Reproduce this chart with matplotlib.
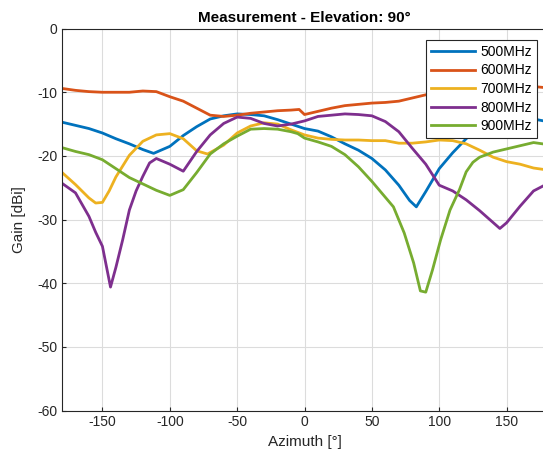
import numpy as np
import matplotlib
matplotlib.use('Agg')
import matplotlib.pyplot as plt

# Gain patterns (azimuth in deg, gain in dBi)
az_500 = [-180, -170, -160, -150, -140, -130, -120, -112, -100, -90, -80, -70, -60, -50, -40, -30, -20, -10,
          0, 10, 20, 30, 40, 50, 60, 70, 78, 83, 90, 100, 110, 120, 130, 140, 150, 160, 170, 180]
gain_500 = [-14.7, -15.2, -15.7, -16.4, -17.3, -18.1, -19.0, -19.6, -18.5, -16.8, -15.4, -14.2, -13.7, -13.4, -13.5, -13.7, -14.3, -15.0,
            -15.7, -16.1, -17.0, -18.1, -19.1, -20.4, -22.2, -24.6, -27.0, -28.0, -25.6, -22.0, -19.5, -17.3, -15.5, -14.2, -13.7, -13.8, -14.2, -14.6]

az_600 = [-180, -170, -160, -150, -140, -130, -120, -110, -100, -90, -80, -70, -60, -50, -40, -30, -20, -10, -4,
          0, 10, 20, 30, 40, 50, 60, 70, 80, 90, 100, 110, 120, 130, 140, 150, 160, 170, 180]
gain_600 = [-9.4, -9.7, -9.9, -10.0, -10.0, -10.0, -9.8, -9.9, -10.7, -11.4, -12.5, -13.6, -13.8, -13.6, -13.3, -13.1, -12.9, -12.8, -12.7,
            -13.5, -13.0, -12.5, -12.1, -11.9, -11.7, -11.6, -11.4, -10.9, -10.4, -10.0, -9.7, -9.5, -9.3, -9.2, -9.1, -9.0, -9.1, -9.3]

az_700 = [-180, -170, -160, -155, -150, -145, -140, -130, -120, -110, -100, -90, -80, -72, -60, -50, -40, -30, -20, -10,
          0, 10, 20, 30, 40, 50, 60, 70, 80, 90, 100, 110, 120, 130, 140, 150, 160, 170, 180]
gain_700 = [-22.6, -24.5, -26.6, -27.4, -27.3, -25.5, -23.3, -19.9, -17.7, -16.7, -16.5, -17.3, -19.2, -19.7, -18.3, -16.4, -15.3, -14.8, -15.0, -15.9,
            -16.7, -17.2, -17.4, -17.5, -17.5, -17.6, -17.6, -18.0, -18.0, -17.8, -17.5, -17.6, -18.1, -19.1, -20.2, -20.9, -21.3, -21.9, -22.2]

az_800 = [-180, -170, -160, -155, -150, -144, -140, -135, -130, -125, -120, -115, -110, -100, -90, -80, -70, -60, -50, -40, -30, -20, -10,
          0, 10, 20, 30, 40, 50, 60, 70, 80, 90, 100, 110, 120, 130, 145, 150, 160, 170, 180]
gain_800 = [-24.3, -25.8, -29.5, -32.0, -34.2, -40.6, -37.5, -33.2, -28.5, -25.5, -23.2, -21.1, -20.4, -21.3, -22.4, -19.3, -16.7, -14.9, -13.9, -14.1, -14.9, -15.3, -15.0,
            -14.5, -13.8, -13.6, -13.4, -13.5, -13.7, -14.6, -16.2, -18.8, -21.3, -24.6, -25.5, -26.9, -28.6, -31.4, -30.5, -27.9, -25.5, -24.4]

az_900 = [-180, -170, -160, -150, -140, -130, -120, -110, -100, -90, -80, -70, -60, -50, -40, -30, -20, -10, -5,
          0, 10, 20, 30, 40, 50, 56, 66, 74, 81, 86, 90, 95, 101, 108, 115, 120, 125, 130, 140, 150, 160, 170, 180]
gain_900 = [-18.7, -19.3, -19.8, -20.6, -22.0, -23.4, -24.4, -25.4, -26.2, -25.3, -22.6, -19.7, -18.1, -16.9, -15.8, -15.7, -15.8, -16.2, -16.5,
            -17.2, -17.8, -18.5, -19.8, -21.7, -24.0, -25.5, -28.0, -32.1, -36.8, -41.2, -41.4, -37.9, -33.2, -28.5, -25.3, -22.5, -21.0, -20.2, -19.4, -18.9, -18.4, -17.9, -18.2]

series = [
    ('500MHz', az_500, gain_500, '#0072BD'),
    ('600MHz', az_600, gain_600, '#D95319'),
    ('700MHz', az_700, gain_700, '#EDB120'),
    ('800MHz', az_800, gain_800, '#7E2F8E'),
    ('900MHz', az_900, gain_900, '#77AC30'),
]

plt.rcParams['font.family'] = ['Liberation Sans', 'DejaVu Sans']
plt.rcParams['axes.unicode_minus'] = False

fig = plt.figure(figsize=(5.43, 4.59), dpi=100)
# axes runs slightly past the right edge, as in the cropped original
ax = fig.add_axes([0.1142, 0.1055, 0.8932, 0.8322])

for name, az, gain, col in series:
    ax.plot(az, gain, color=col, lw=2, label=name)

ax.set_xlim(-180, 180)
ax.set_ylim(-60, 0)
ax.set_xticks(np.arange(-150, 151, 50))
ax.set_yticks(np.arange(-60, 1, 10))
ax.grid(True, color='#dcdcdc', lw=0.8)
ax.set_axisbelow(True)
ax.tick_params(direction='in', length=3, labelsize=10, color='#262626', labelcolor='#262626')
for sp in ax.spines.values():
    sp.set_color('#262626')
    sp.set_linewidth(0.8)

ax.set_xlabel('Azimuth [°]', fontsize=11, color='#262626', labelpad=4)
ax.set_ylabel('Gain [dBi]', fontsize=11, color='#262626', labelpad=8)
ax.set_title('Measurement - Elevation: 90°', fontsize=11, fontweight='bold', pad=5)

leg = ax.legend(loc='upper right', bbox_to_anchor=(0.989, 0.913), bbox_transform=fig.transFigure,
                borderaxespad=0, fancybox=False, framealpha=1, edgecolor='#262626',
                fontsize=10, handlelength=3.2, handletextpad=0.4, labelspacing=0.33, borderpad=0.35)
leg.get_frame().set_linewidth(0.8)

fig.savefig('out.png', dpi=100)
